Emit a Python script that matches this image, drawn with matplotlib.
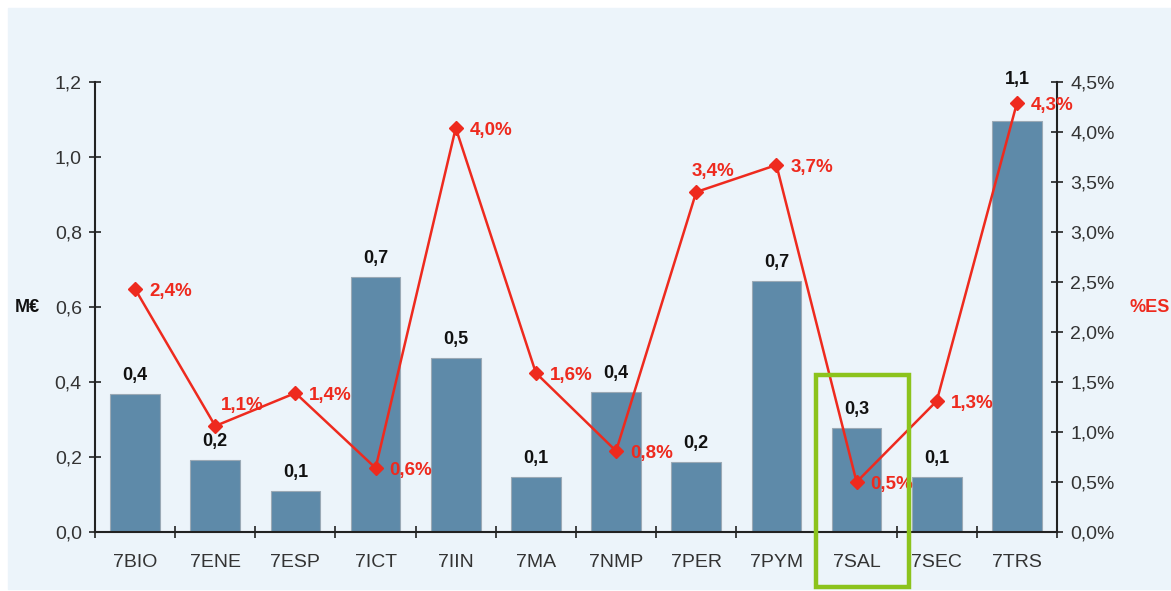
import matplotlib
matplotlib.use('Agg')
import matplotlib.pyplot as plt
import matplotlib.patches as patches

plt.rcParams['font.family'] = ['Liberation Sans', 'DejaVu Sans']

# data
categories = ['7BIO', '7ENE', '7ESP', '7ICT', '7IIN', '7MA', '7NMP', '7PER', '7PYM', '7SAL', '7SEC', '7TRS']
meur = [0.368, 0.192, 0.109, 0.68, 0.464, 0.147, 0.373, 0.187, 0.669, 0.277, 0.147, 1.096]
pct_esf = [2.43, 1.06, 1.39, 0.64, 4.04, 1.59, 0.81, 3.40, 3.67, 0.50, 1.31, 4.29]

bar_col = '#5e8aa9'
red = '#ee2a1e'
txt = '#333333'

# label nudges (offset points)
bar_lbl_off = {11: 24}
pct_lbl_off = {1: (4, 15), 7: (-3, 15)}

fig = plt.figure(figsize=(11.71, 5.91), dpi=100)
bg = patches.Rectangle((8 / 1171, 2 / 591), 1 - 8 / 1171, 581 / 591,
                       transform=fig.transFigure, color='#ecf4fa', zorder=-10)
fig.add_artist(bg)

ax = fig.add_axes([95 / 1171, 1 - 532 / 591, 962 / 1171, 450 / 591])
ax.patch.set_visible(False)
x = range(len(categories))
ax.bar(x, meur, width=0.62, color=bar_col, edgecolor='#9aa9b5', linewidth=0.8, zorder=2)
for i, v in enumerate(meur):
    ax.annotate(f'{v:.1f}'.replace('.', ','), (i, v), xytext=(0, bar_lbl_off.get(i, 7)),
                textcoords='offset points', ha='center', va='bottom',
                fontsize=13, fontweight='bold', color='#111111')

ax.set_xlim(-0.5, len(categories) - 0.5)
ax.set_ylim(0, 1.2)
ax.set_yticks([0, 0.2, 0.4, 0.6, 0.8, 1.0, 1.2])
ax.set_yticklabels([f'{t:.1f}'.replace('.', ',') for t in ax.get_yticks()])
ax.set_xticks(list(x))
ax.set_xticklabels(categories)
ax.set_xticks([i - 0.5 for i in range(len(categories) + 1)], minor=True)
ax.tick_params(axis='x', which='major', length=0, pad=16, labelsize=14, labelcolor=txt)
ax.tick_params(axis='x', which='minor', direction='inout', length=9, width=1.2, color='#222222')
ax.tick_params(axis='y', direction='inout', length=9, width=1.2, pad=5, labelsize=14,
               labelcolor=txt, color='#222222')
for s in ['top', 'right']:
    ax.spines[s].set_visible(False)
for s in ['left', 'bottom']:
    ax.spines[s].set_linewidth(1.5)
    ax.spines[s].set_color('#222222')

ax2 = ax.twinx()
ax2.plot(list(x), pct_esf, color=red, lw=1.8, marker='D', markersize=7, zorder=5)
for i, v in enumerate(pct_esf):
    ax2.annotate(f'{v:.1f}%'.replace('.', ','), (i, v), xytext=pct_lbl_off.get(i, (10, -1.5)),
                 textcoords='offset points', ha='left', va='center',
                 fontsize=13.5, fontweight='bold', color=red)
ax2.set_ylim(0, 4.5)
ax2.set_yticks([0, 0.5, 1.0, 1.5, 2.0, 2.5, 3.0, 3.5, 4.0, 4.5])
ax2.set_yticklabels([f'{t:.1f}%'.replace('.', ',') for t in ax2.get_yticks()])
ax2.tick_params(axis='y', direction='inout', length=9, width=1.2, pad=5, labelsize=14,
                labelcolor=txt, color='#222222')
for s in ['top', 'left', 'bottom']:
    ax2.spines[s].set_visible(False)
ax2.spines['right'].set_linewidth(1.5)
ax2.spines['right'].set_color('#222222')

fig.text(15 / 1171, 1 - 308 / 591, 'M€', fontsize=13, fontweight='bold', color='#111111',
         ha='left', va='center')
fig.text(1130 / 1171, 1 - 308 / 591, '%ES', fontsize=13, fontweight='bold', color=red,
         ha='left', va='center')

# highlight box
fig.add_artist(patches.Rectangle((816 / 1171, 1 - 587 / 591), 93 / 1171, 212 / 591,
                                 transform=fig.transFigure, fill=False,
                                 edgecolor='#8cc31c', linewidth=3.2, zorder=10))

fig.savefig('out.png', dpi=100)
